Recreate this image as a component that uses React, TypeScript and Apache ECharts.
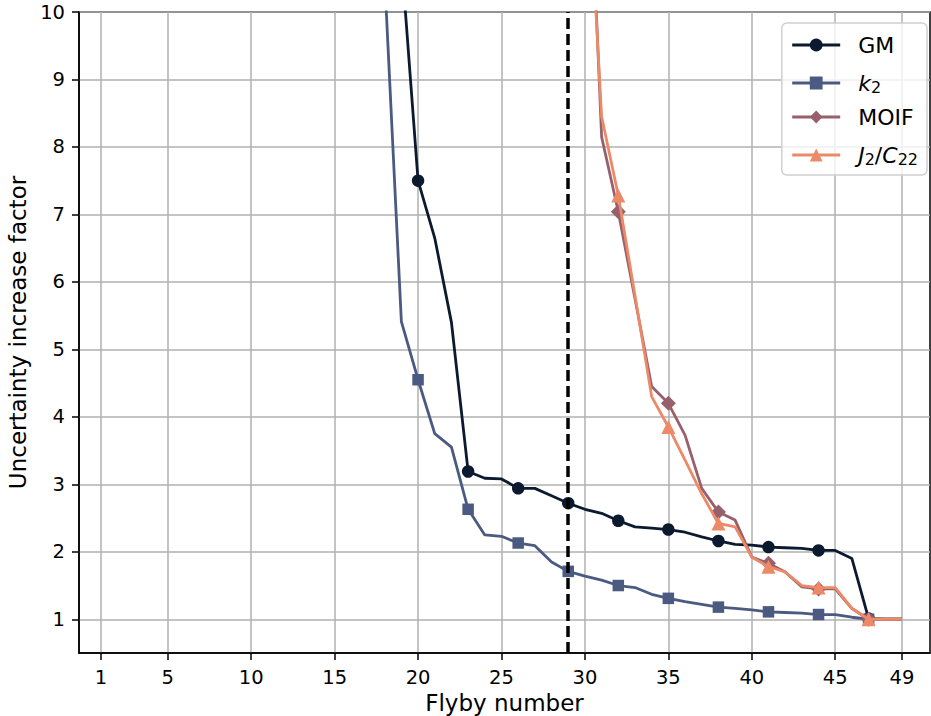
import React, { useEffect, useRef } from "react";
import * as echarts from "echarts";

const flybys = [18, 19, 20, 21, 22, 23, 24, 25, 26, 27, 28, 29, 30, 31, 32, 33, 34, 35, 36, 37, 38, 39, 40, 41, 42, 43, 44, 45, 46, 47, 48, 49];

const gmValues = [null, 10.8, 7.5, 6.65, 5.4, 3.19, 3.09, 3.08, 2.94, 2.94, 2.83, 2.72, 2.63, 2.57, 2.46, 2.37, 2.35, 2.33, 2.29, 2.22, 2.16, 2.11, 2.1, 2.07, 2.06, 2.05, 2.02, 2.02, 1.9, 1.01, 1.0, 1.0];
const k2Values = [10.5, 5.41, 4.55, 3.75, 3.55, 2.63, 2.25, 2.23, 2.13, 2.09, 1.85, 1.71, 1.64, 1.58, 1.5, 1.47, 1.37, 1.31, 1.26, 1.22, 1.18, 1.16, 1.14, 1.11, 1.1, 1.09, 1.07, 1.07, 1.03, 1.0, 1.0, 1.0];
const moifValues = [null, null, null, null, null, null, null, null, null, null, null, null, 14.0, 8.15, 7.04, 5.75, 4.45, 4.2, 3.73, 2.94, 2.59, 2.47, 1.92, 1.83, 1.7, 1.48, 1.45, 1.45, 1.16, 1.0, 1.0, 1.0];
const j2c22Values = [null, null, null, null, null, null, null, null, null, null, null, null, 13.0, 8.45, 7.28, 5.8, 4.3, 3.85, 3.36, 2.86, 2.42, 2.37, 1.92, 1.78, 1.7, 1.5, 1.47, 1.47, 1.16, 1.0, 1.0, 1.0];

const xTicks = [1, 5, 10, 15, 20, 25, 30, 35, 40, 45, 49];
const yTicks = [1, 2, 3, 4, 5, 6, 7, 8, 9, 10];
const referenceFlyby = 29;
const markerFlybys = [20, 23, 26, 29, 32, 35, 38, 41, 44, 47];

const seriesNames = ["GM", "k2", "MOIF", "J2/C22"];
const seriesColors = ["#0b1a2f", "#4b5a80", "#97606c", "#ec8a68"];
const seriesSymbols = ["circle", "rect", "diamond", "triangle"];
const seriesSymbolSizes = [12.5, 11.5, 15, 14];

export default function App() {
  const ref = useRef<HTMLDivElement>(null);
  useEffect(() => {
    if (!ref.current) return;
    const chart = echarts.init(ref.current, null, { renderer: "svg" });
    const allValues = [gmValues, k2Values, moifValues, j2c22Values];
    const series: any[] = allValues.map((vals, si) => ({
      name: seriesNames[si],
      type: "line",
      clip: true,
      z: 3 + si,
      symbol: seriesSymbols[si],
      symbolSize: seriesSymbolSizes[si],
      showAllSymbol: true,
      connectNulls: false,
      lineStyle: { color: seriesColors[si], width: 2.8 },
      itemStyle: { color: seriesColors[si] },
      data: flybys.map((f, i) => ({
        value: [f, vals[i]],
        symbol: markerFlybys.includes(f) ? seriesSymbols[si] : "none",
      })),
    }));
    series[0].markLine = {
      silent: true,
      symbol: ["none", "none"],
      label: { show: false },
      lineStyle: { color: "#000", width: 3.5, type: [11, 5] },
      data: [{ xAxis: referenceFlyby }],
      z: 10,
    };

    const font = "DejaVu Sans";
    chart.setOption({
      animation: false,
      backgroundColor: "#fff",
      grid: {
        left: 79,
        right: 1,
        top: 12,
        bottom: 63,
        outerBoundsMode: "none",
        containLabel: false,
        show: true,
        borderColor: "#000",
        borderWidth: 1.5,
        backgroundColor: "transparent",
      },
      legend: {
        orient: "vertical",
        right: 4,
        top: 23,
        itemWidth: 48,
        itemHeight: 16,
        itemGap: 10,
        padding: [10, 9, 8, 9],
        backgroundColor: "rgba(255,255,255,0.8)",
        borderColor: "#d0d0d0",
        borderWidth: 1.5,
        borderRadius: 5,
        lineStyle: { width: 2.8 },
        textStyle: {
          fontFamily: font,
          fontSize: 22,
          lineHeight: 24,
          color: "#000",
          padding: [0, 0, 0, 13],
          rich: {
            i: { fontFamily: font, fontSize: 22, lineHeight: 24, fontStyle: "italic", color: "#000" },
            s: { fontFamily: font, fontSize: 16, lineHeight: 24, color: "#000", verticalAlign: "bottom", padding: [12, 0, 0, 0] },
            n: { fontFamily: font, fontSize: 22, lineHeight: 24, color: "#000" },
          },
        },
        formatter: (name: string) => {
          if (name === "k2") return "{i|k}{s|2}";
          if (name === "J2/C22") return "{i|J}{s|2}{n|/}{i|C}{s|22}";
          return name;
        },
        data: seriesNames,
      },
      xAxis: {
        type: "value",
        min: -0.32,
        max: 50.68,
        name: "Flyby number",
        nameLocation: "middle",
        nameGap: 38,
        nameTextStyle: { fontFamily: font, fontSize: 23, color: "#000" },
        axisLine: { show: true, onZero: false, lineStyle: { color: "#000", width: 1.5 } },
        axisTick: { show: true, inside: false, length: 7, lineStyle: { color: "#000", width: 1.5 }, customValues: xTicks },
        axisLabel: { fontFamily: font, fontSize: 19.5, color: "#000", margin: 14, customValues: xTicks, showMinLabel: true, showMaxLabel: true },
        splitLine: { show: true, lineStyle: { color: "#b0b0b0", width: 1.5 } },
      },
      yAxis: {
        type: "value",
        min: 0.5,
        max: 10,
        name: "Uncertainty increase factor",
        nameLocation: "middle",
        nameGap: 45,
        nameTextStyle: { fontFamily: font, fontSize: 23, color: "#000" },
        axisLine: { show: true, onZero: false, lineStyle: { color: "#000", width: 1.5 } },
        axisTick: { show: true, inside: false, length: 7, lineStyle: { color: "#000", width: 1.5 }, customValues: yTicks },
        axisLabel: { fontFamily: font, fontSize: 19.5, color: "#000", margin: 14, customValues: yTicks, showMinLabel: true, showMaxLabel: true },
        splitLine: { show: true, lineStyle: { color: "#b0b0b0", width: 1.5 } },
      },
      series,
    });
    return () => chart.dispose();
  }, []);
  return <div ref={ref} style={{ width: 931, height: 716, position: "absolute", left: 0, top: 0 }} />;
}
